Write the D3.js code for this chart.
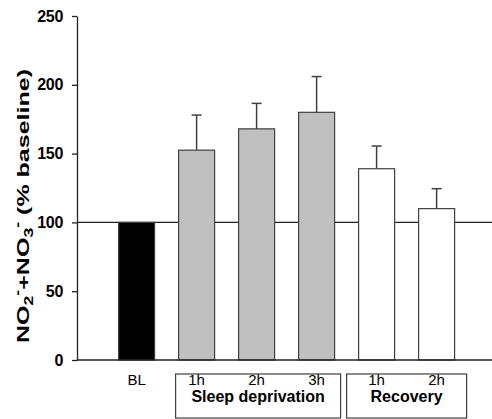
<!DOCTYPE html>
<html>
<head>
<meta charset="utf-8">
<script src="https://cdn.jsdelivr.net/npm/d3@7"></script>
<style>
  body { margin: 0; background: #fff; }
  svg { display: block; font-family: "Liberation Sans", Arial, sans-serif; }
</style>
</head>
<body>
<div id="chart"></div>
<script>
// values (% of baseline)
const categories = ["BL", "SD1", "SD2", "SD3", "R1", "R2"];
const tickLabels = ["BL", "1h", "2h", "3h", "1h", "2h"];
const means = [100, 152.5, 168, 180, 139, 110];
const errors = [0, 25.5, 18.5, 26, 16.5, 14.5];
const fills = ["#000000", "#c0c0c0", "#c0c0c0", "#c0c0c0", "#ffffff", "#ffffff"];
const yTicks = [0, 50, 100, 150, 200, 250];
const groups = [
    { name: "Sleep deprivation", first: "SD1", last: "SD3", padLeft: 3, padRight: 6 },
    { name: "Recovery", first: "R1", last: "R2", padLeft: 12, padRight: 12 }
];

const width = 492;
const height = 419;
const axisX = 77;

const svg = d3.select('#chart').append('svg')
    .attr('width', width)
    .attr('height', height);

const y = d3.scaleLinear()
    .domain([0, 250])
    .range([360, 16]);

const x = d3.scaleBand()
    .domain(categories)
    .range([106.6, 466.6])
    .paddingInner(0.4)
    .paddingOuter(0.2);

const stroke = "#404040";

// baseline reference line at 100 %
svg.append('line')
    .attr('x1', axisX).attr('x2', width)
    .attr('y1', y(100)).attr('y2', y(100))
    .attr('stroke', '#222').attr('stroke-width', 1.3);

// error bars (upper only)
const err = svg.append('g')
    .attr('stroke', stroke)
    .attr('stroke-width', 1.5);

categories.forEach((c, i) => {
    if (!errors[i]) return;
    const cx = x(c) + x.bandwidth() / 2;
    err.append('line')
        .attr('x1', cx).attr('x2', cx)
        .attr('y1', y(means[i])).attr('y2', y(means[i] + errors[i]));
    err.append('line')
        .attr('x1', cx - 5).attr('x2', cx + 5)
        .attr('y1', y(means[i] + errors[i])).attr('y2', y(means[i] + errors[i]));
});

// bars
svg.append('g')
    .selectAll('rect')
    .data(categories)
    .join('rect')
    .attr('x', c => x(c))
    .attr('y', (c, i) => y(means[i]))
    .attr('width', x.bandwidth())
    .attr('height', (c, i) => y(0) - y(means[i]))
    .attr('fill', (c, i) => fills[i])
    .attr('stroke', stroke)
    .attr('stroke-width', 1.2);

// x axis line
svg.append('line')
    .attr('x1', axisX).attr('x2', width)
    .attr('y1', y(0)).attr('y2', y(0))
    .attr('stroke', '#222').attr('stroke-width', 1.3);

// y axis
const yAxis = svg.append('g')
    .attr('transform', `translate(${axisX},0)`)
    .call(d3.axisLeft(y).tickValues(yTicks).tickSize(5).tickSizeOuter(0).tickPadding(9));

yAxis.select('.domain').attr('stroke', '#222').attr('stroke-width', 1.3);
yAxis.selectAll('.tick line').attr('stroke', '#222').attr('stroke-width', 1.3);
yAxis.selectAll('.tick text')
    .attr('fill', '#000')
    .attr('font-size', 16)
    .attr('font-weight', 'bold')
    .attr('font-family', '"Liberation Sans", Arial, sans-serif')
    .attr('letter-spacing', -0.3);

// y axis title
const title = svg.append('text')
    .attr('transform', 'translate(29,206) rotate(-90)')
    .attr('text-anchor', 'middle')
    .attr('font-size', 17)
    .attr('font-weight', 'bold')
    .attr('textLength', 274)
    .attr('lengthAdjust', 'spacingAndGlyphs');
title.append('tspan').text('NO');
title.append('tspan').attr('font-size', 12).attr('dy', 4).text('2');
title.append('tspan').attr('font-size', 12).attr('dy', -11).text('-');
title.append('tspan').attr('dy', 7).text('+NO');
title.append('tspan').attr('font-size', 12).attr('dy', 4).text('3');
title.append('tspan').attr('font-size', 12).attr('dy', -11).text('-');
title.append('tspan').attr('dy', 7).text(' (% baseline)');

// category labels
svg.append('g')
    .selectAll('text')
    .data(categories)
    .join('text')
    .attr('x', c => x(c) + x.bandwidth() / 2)
    .attr('y', 385)
    .attr('text-anchor', 'middle')
    .attr('font-size', 15)
    .text((c, i) => tickLabels[i]);

// group boxes
groups.forEach(g => {
    const x0 = x(g.first) - g.padLeft;
    const x1 = x(g.last) + x.bandwidth() + g.padRight;
    svg.append('rect')
        .attr('x', x0).attr('y', 374)
        .attr('width', x1 - x0).attr('height', 44)
        .attr('fill', 'none')
        .attr('stroke', stroke)
        .attr('stroke-width', 1.2);
    svg.append('text')
        .attr('x', (x0 + x1) / 2)
        .attr('y', 402)
        .attr('text-anchor', 'middle')
        .attr('font-size', 16)
        .attr('font-weight', 'bold')
        .text(g.name);
});
</script>
</body>
</html>
